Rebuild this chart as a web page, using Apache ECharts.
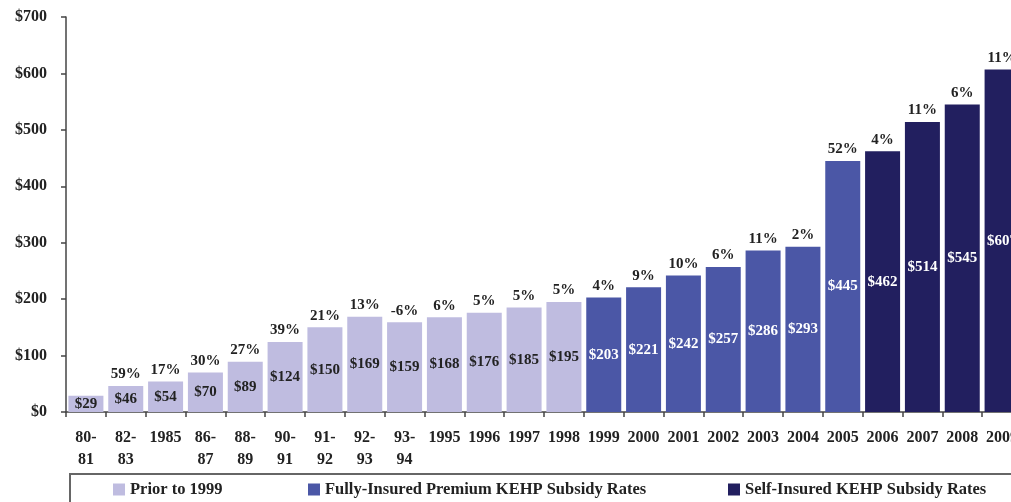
<!DOCTYPE html>
<html><head><meta charset="utf-8">
<script src="https://cdn.jsdelivr.net/npm/echarts@6/dist/echarts.min.js"></script>
<style>html,body{margin:0;padding:0;background:#fff}#c{width:1011px;height:502px}</style>
</head><body><div id="c"></div>
<script>
const categories = ['80-\n81','82-\n83','1985','86-\n87','88-\n89','90-\n91','91-\n92','92-\n93','93-\n94','1995','1996','1997','1998','1999','2000','2001','2002','2003','2004','2005','2006','2007','2008','2009'];
const subsidy = [29,46,54,70,89,124,150,169,159,168,176,185,195,203,221,242,257,286,293,445,462,514,545,607];
const pctChange = ['','59%','17%','30%','27%','39%','21%','13%','-6%','6%','5%','5%','5%','4%','9%','10%','6%','11%','2%','52%','4%','11%','6%','11%'];
const groupOf = [0,0,0,0,0,0,0,0,0,0,0,0,0,1,1,1,1,1,1,1,2,2,2,2];
const groupNames = ['Prior to 1999','Fully-Insured Premium KEHP Subsidy Rates','Self-Insured KEHP Subsidy Rates'];
const yTicks = [0,100,200,300,400,500,600,700];

const colors = ['#bfbce0','#4b57a6','#221f5f'];
const labelColors = ['#222','#fff','#fff'];
const serif = '"Liberation Serif","DejaVu Serif",serif';

const series = groupNames.map((name, g) => ({
  name, type: 'bar', barWidth: 35, barGap: '-100%',
  data: subsidy.map((v, i) => groupOf[i] === g ? v : '-'),
  itemStyle: { color: colors[g] },
  label: { show: true, position: 'inside', formatter: p => '$' + p.value,
    color: labelColors[g], fontFamily: serif, fontWeight: 'bold', fontSize: 15 },
  z: 2
}));
series.push({
  name: 'pct', type: 'bar', barWidth: 35, barGap: '-100%',
  data: subsidy, itemStyle: { color: 'rgba(0,0,0,0)' }, silent: true,
  label: { show: true, position: 'top', distance: 4, formatter: p => pctChange[p.dataIndex],
    color: '#222', fontFamily: serif, fontWeight: 'bold', fontSize: 15 },
  z: 3
});

const legendPos = [108, 303, 723];
const chart = echarts.init(document.getElementById('c'), null, { renderer: 'canvas' });
chart.setOption({
  animation: false,
  grid: { left: 66, width: 956, top: 17, height: 395, containLabel: false, outerBoundsMode: 'none' },
  xAxis: {
    type: 'category', data: categories,
    axisLine: { lineStyle: { color: '#444', width: 1.5 } },
    axisTick: { show: true, length: 5, lineStyle: { color: '#444', width: 1.5 } },
    axisLabel: { interval: 0, margin: 15, color: '#222', fontFamily: serif, fontWeight: 'bold', fontSize: 16, lineHeight: 22, verticalAlign: 'top' }
  },
  yAxis: {
    type: 'value', min: 0, max: 700, interval: 100,
    axisLine: { show: true, lineStyle: { color: '#444', width: 1.5 } },
    axisTick: { show: true, length: 5, lineStyle: { color: '#444', width: 1.5 } },
    splitLine: { show: false },
    axisLabel: { margin: 19, color: '#222', fontFamily: serif, fontWeight: 'bold', fontSize: 16,
      formatter: v => yTicks.includes(v) ? '$' + v : '' }
  },
  legend: groupNames.map((n, g) => ({
    data: [n], left: legendPos[g], top: 476, icon: 'rect', itemWidth: 12, itemHeight: 12, itemGap: 4,
    textStyle: { color: '#222', fontFamily: serif, fontWeight: 'bold', fontSize: 16.5 },
    selectedMode: false
  })),
  graphic: [{ type: 'rect', shape: { x: 70, y: 474, width: 1000, height: 60 },
    style: { fill: 'none', stroke: '#666', lineWidth: 2 }, silent: true }],
  series
});
</script></body></html>
